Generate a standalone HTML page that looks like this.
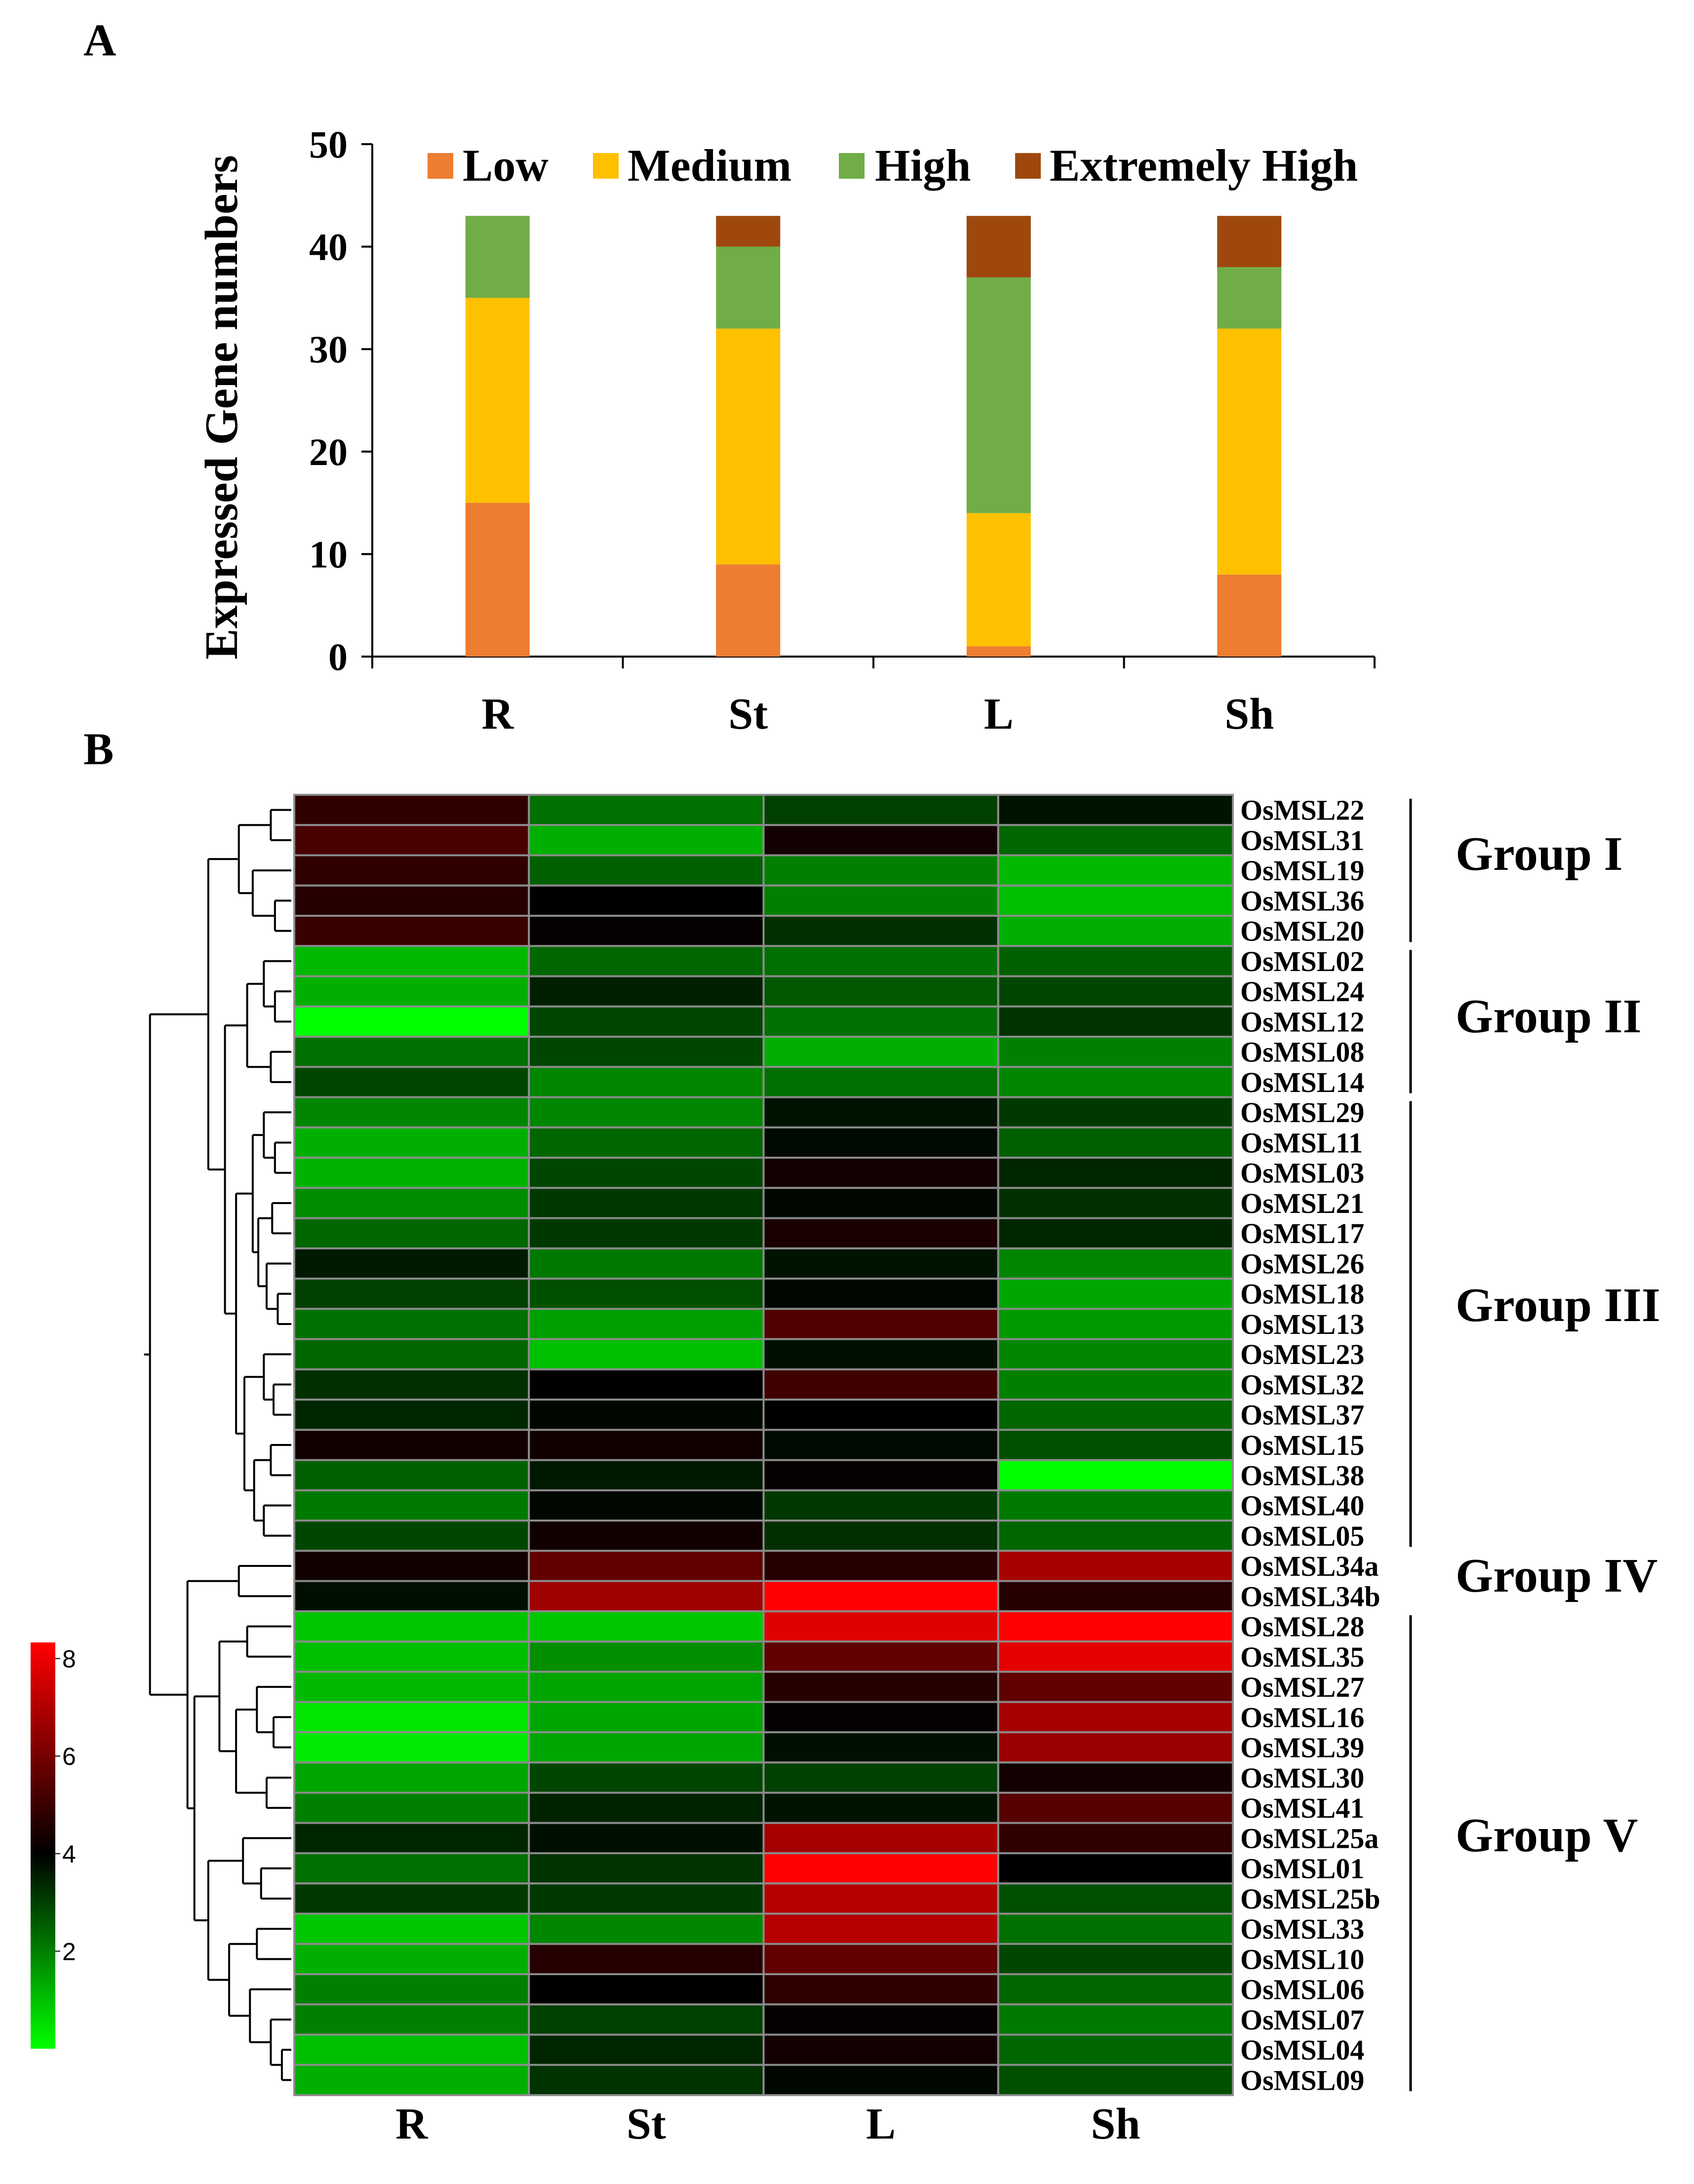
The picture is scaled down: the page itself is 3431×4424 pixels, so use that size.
<!DOCTYPE html>
<html><head><meta charset="utf-8"><style>
html,body{margin:0;padding:0;background:#fff}
svg{display:block}
text{font-family:"Liberation Serif",serif;font-weight:bold;fill:#000}
</style></head>
<body>
<svg id="fig" xmlns="http://www.w3.org/2000/svg" width="3431" height="4424" viewBox="0 0 3431 4424">
<text x="169" y="112" font-size="92">A</text>
<text x="169" y="1548" font-size="92">B</text>
<g id="barchart"></g>
<g id="heatmap"></g>
<g id="dendro"></g>
<g id="cbar"></g>
</svg>
<script>
// ---------- Panel A data ----------
const tissues = ["R","St","L","Sh"];
const lowVals = [15, 9, 1, 8];
const mediumVals = [20, 23, 13, 24];
const highVals = [8, 8, 23, 6];
const extremeVals = [0, 3, 6, 5];
const yTicks = [0,10,20,30,40,50];
const seriesNames = ["Low","Medium","High","Extremely High"];

// ---------- Panel B data ----------
const genes = ["OsMSL22","OsMSL31","OsMSL19","OsMSL36","OsMSL20","OsMSL02","OsMSL24","OsMSL12","OsMSL08","OsMSL14","OsMSL29","OsMSL11","OsMSL03","OsMSL21","OsMSL17","OsMSL26","OsMSL18","OsMSL13","OsMSL23","OsMSL32","OsMSL37","OsMSL15","OsMSL38","OsMSL40","OsMSL05","OsMSL34a","OsMSL34b","OsMSL28","OsMSL35","OsMSL27","OsMSL16","OsMSL39","OsMSL30","OsMSL41","OsMSL25a","OsMSL01","OsMSL25b","OsMSL33","OsMSL10","OsMSL06","OsMSL07","OsMSL04","OsMSL09"];
const valR  = [4.75,5.15,4.75,4.6,4.9,1.1,1.25,0,2.25,2.9,1.9,1.25,1.2,1.8,2.4,3.6,3,2.25,2.4,3.25,3.4,4.25,2.5,2.1,2.9,4.25,3.75,0.9,1,1.1,0.4,0.35,1.4,2,3.4,2.25,3.1,0.9,1.25,2,2,1,1.25];
const valSt = [2.25,1.25,2.5,4,4.1,2.4,3.5,2.9,2.9,1.9,1.9,2.4,2.9,3.1,3.1,2.1,2.75,1.5,1,4,3.9,4.25,3.6,3.9,4.25,5.5,6.5,0.9,1.75,1.4,1.4,1.4,2.9,3.45,3.75,3.2,3.1,1.9,4.6,4,3,3.4,3.2];
const valL  = [3,4.3,2,2,3.25,2.25,2.6,2.25,1.25,2.25,3.7,3.85,4.3,3.9,4.4,3.7,3.9,5.25,3.75,5,4,3.85,4.1,3.1,3.25,4.6,8,7.5,5.5,4.6,4.1,3.75,3,3.7,6.6,8,6.85,6.85,5.5,4.75,4.1,4.3,3.9];
const valSh = [3.7,2.4,1.1,1,1.25,2.5,2.9,3.2,2,1.9,3.1,2.5,3.4,3.25,3.4,1.9,1.4,1.6,1.9,2,2.4,2.75,0,2.1,2.4,6.6,4.6,8,7.6,5.5,6.6,6.4,4.3,5.35,4.75,4,2.75,2.25,2.9,2.4,2.1,2.4,2.75];
const groupNames = ["Group I","Group II","Group III","Group IV","Group V"];
const groupStart = [0,5,10,25,27];
const groupEnd = [4,9,24,26,42];
const scaleTicks = [2,4,6,8];

const NS="http://www.w3.org/2000/svg";
function mk(tag, attrs, parent){const e=document.createElementNS(NS,tag);for(const k in attrs)e.setAttribute(k,attrs[k]);parent.appendChild(e);return e;}

// ---------- Panel A ----------
(function(){
  const g=document.getElementById('barchart');
  const x0=754,x1=2784,yBase=1330,yTop=292,maxV=50;
  const y=v=>yBase-(yBase-yTop)*v/maxV;
  const band=(x1-x0)/tissues.length;
  const xc=i=>x0+band*(i+0.5);
  const bw=130;
  const colors=["#ED7D31","#FFC000","#70AD47","#9E480E"];
  const series=[lowVals,mediumVals,highVals,extremeVals];
  const ya=mk('line',{x1:x0,y1:yTop,x2:x0,y2:yBase,stroke:"#000","stroke-width":4},g);
  
  
  const xa=mk('line',{x1:x0,y1:yBase,x2:x1,y2:yBase,stroke:"#000","stroke-width":4},g);
  
  
  yTicks.forEach(t=>{
    const tk=mk('line',{x1:x0-22,y1:y(t),x2:x0,y2:y(t),stroke:"#000","stroke-width":4},g);
    
    
    const tl=mk('text',{x:x0-50,y:y(t)+27,"font-size":78,"text-anchor":"end"},g);
    tl.textContent=t;
    
    
  });
  for(let i=0;i<=tissues.length;i++){
    const tk=mk('line',{x1:x0+band*i,y1:yBase,x2:x0+band*i,y2:yBase+24,stroke:"#000","stroke-width":4},g);
    
    
  }
  tissues.forEach((t,i)=>{
    let acc=0;
    series.forEach((s,k)=>{
      const v=s[i]; if(v<=0) return;
      const r=mk('rect',{x:xc(i)-bw/2,y:y(acc+v),width:bw,height:y(acc)-y(acc+v),fill:colors[k]},g);
      
      
      acc+=v;
    });
    const xl=mk('text',{x:xc(i),y:1476,"font-size":90,"text-anchor":"middle"},g);
    xl.textContent=t;
    
    
  });
  const yt=mk('text',{x:0,y:0,"font-size":94,"text-anchor":"middle",transform:"translate(480,825) rotate(-90)"},g);
  yt.textContent="Expressed Gene numbers";
  
  
  const legSq=[866,1201,1699,2056], legTx=[937,1271,1772,2126];
  seriesNames.forEach((n,k)=>{
    const sq=mk('rect',{x:legSq[k],y:310,width:52,height:52,fill:colors[k]},g);
    
    
    const lt=mk('text',{x:legTx[k],y:366,"font-size":92},g);
    lt.textContent=n;
    
    
  });
})();

// ---------- Panel B heatmap ----------
function colorFor(v){
  v=Math.max(0,Math.min(8,v));
  if(v<4){const gg=Math.round(255*(4-v)/4);return `rgb(0,${gg},0)`;}
  const rr=Math.round(255*(v-4)/4);return `rgb(${rr},0,0)`;
}
const HX0=596,HX1=2497,HY0=1610,HY1=4244;
const rowH=(HY1-HY0)/genes.length;
const rowC=i=>HY0+rowH*(i+0.5);
(function(){
  const g=document.getElementById('heatmap');
  const cw=(HX1-HX0)/tissues.length;
  const cols=[valR,valSt,valL,valSh];
  genes.forEach((gn,i)=>{
    cols.forEach((arr,j)=>{
      const r=mk('rect',{x:HX0+cw*j,y:HY0+rowH*i,width:cw,height:rowH,fill:colorFor(arr[i]),stroke:"#8c8c8c","stroke-width":4},g);
      
      
    });
    const t=mk('text',{x:2512,y:rowC(i)+20,"font-size":58},g);
    t.textContent=gn;
    
    
  });
  tissues.forEach((t,j)=>{
    const xl=mk('text',{x:HX0+cw*(j+0.5),y:4332,"font-size":90,"text-anchor":"middle"},g);
    xl.textContent=t;
    
    
  });
  const groupY=[1730,2059,2644,3192,3718];
  groupNames.forEach((n,k)=>{
    const ya=HY0+rowH*groupStart[k]+8, yb=HY0+rowH*(groupEnd[k]+1)-8;
    if(k!==3){
      const ln=mk('line',{x1:2857,y1:ya,x2:2857,y2:yb,stroke:"#000","stroke-width":5},g);
      
      
    }
    const gt=mk('text',{x:2948,y:groupY[k]+32,"font-size":98},g);
    gt.textContent=n;
    
    
  });
})();

// ---------- Dendrogram ----------
(function(){
  const g=document.getElementById('dendro');
  const S=2.8125;
  function N(x,...c){return {x:x*S,c};}
  const G1=N(172,N(195,0,1),N(182,2,N(198,3,4)));
  const G2=N(178,N(190,5,N(198,6,7)),N(195,8,9));
  const G3a=N(182,N(190,10,N(198,11,12)),N(186,N(196,13,14),N(192,15,N(200,16,17))));
  const G3b=N(176,N(190,18,N(197,19,20)),N(183,N(195,21,22),N(190,23,24)));
  const G3=N(170,G3a,G3b);
  const top=N(150,G1,N(162,G2,G3));
  const G5a=N(158,N(178,27,28),N(170,N(185,29,N(197,30,31)),N(192,32,33)));
  const G5b=N(150,N(175,34,N(188,35,36)),N(165,N(185,37,38),N(180,39,N(195,40,N(203,41,42)))));
  const bottom=N(135,N(172,25,26),N(140,G5a,G5b));
  const root=N(108,top,bottom);
  let d="";
  function pos(n){
    if(typeof n==="number") return {x:HX0-6,y:rowC(n)};
    const ps=n.c.map(pos);
    ps.forEach(p=>{d+=`M${p.x},${p.y}H${n.x}`;});
    d+=`M${n.x},${ps[0].y}V${ps[ps.length-1].y}`;
    return {x:n.x,y:(ps[0].y+ps[ps.length-1].y)/2};
  }
  const r=pos(root);
  d+=`M${r.x},${r.y}H${r.x-12}`;
  const p=mk('path',{d:d,fill:"none",stroke:"#000","stroke-width":4},g);
  
  
})();

// ---------- Color scale ----------
(function(){
  const g=document.getElementById('cbar');
  const defs=mk('defs',{},g);
  const lg=mk('linearGradient',{id:"cg",x1:0,y1:1,x2:0,y2:0},defs);
  mk('stop',{offset:"0","stop-color":"#00ff00"},lg);
  mk('stop',{offset:"0.48","stop-color":"#000000"},lg);
  mk('stop',{offset:"1","stop-color":"#ff0000"},lg);
  const yB=4150, perU=98.8;
  const bar=mk('rect',{x:62,y:3327,width:50,height:yB-3327,fill:"url(#cg)"},g);
  
  
  scaleTicks.forEach(t=>{
    const yy=yB-perU*t;
    mk('line',{x1:112,y1:yy,x2:122,y2:yy,stroke:"#000","stroke-width":2},g);
    const tl=mk('text',{x:126,y:yy+18,"font-size":50,style:"font-family:'Liberation Sans',sans-serif;font-weight:normal"},g);
    tl.textContent=t;
    
    
  });
})();
</script>
</body></html>
